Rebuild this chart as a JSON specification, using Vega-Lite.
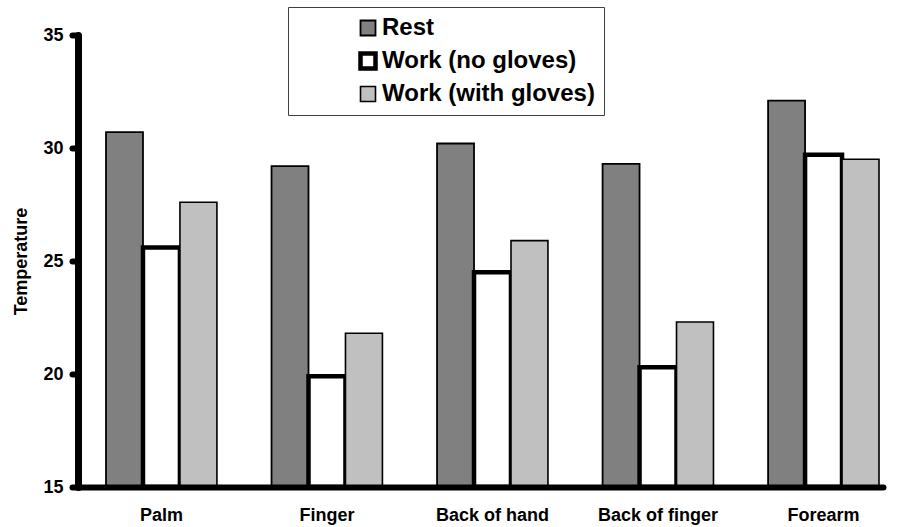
{
  "$schema": "https://vega.github.io/schema/vega-lite/v6.json",
  "width": 805,
  "height": 452,
  "autosize": "none",
  "padding": {"left": 78, "top": 35, "right": 16, "bottom": 40},
  "background": "white",
  "data": {
    "values": [
      {"site": "Palm", "series": "Rest", "temp": 30.7},
      {"site": "Palm", "series": "Work (no gloves)", "temp": 25.6},
      {"site": "Palm", "series": "Work (with gloves)", "temp": 27.6},
      {"site": "Finger", "series": "Rest", "temp": 29.2},
      {"site": "Finger", "series": "Work (no gloves)", "temp": 19.9},
      {"site": "Finger", "series": "Work (with gloves)", "temp": 21.8},
      {"site": "Back of hand", "series": "Rest", "temp": 30.2},
      {"site": "Back of hand", "series": "Work (no gloves)", "temp": 24.5},
      {"site": "Back of hand", "series": "Work (with gloves)", "temp": 25.9},
      {"site": "Back of finger", "series": "Rest", "temp": 29.3},
      {"site": "Back of finger", "series": "Work (no gloves)", "temp": 20.3},
      {"site": "Back of finger", "series": "Work (with gloves)", "temp": 22.3},
      {"site": "Forearm", "series": "Rest", "temp": 32.1},
      {"site": "Forearm", "series": "Work (no gloves)", "temp": 29.7},
      {"site": "Forearm", "series": "Work (with gloves)", "temp": 29.5}
    ]
  },
  "mark": {"type": "bar", "stroke": "black"},
  "encoding": {
    "x": {
      "field": "site",
      "type": "nominal",
      "sort": ["Palm", "Finger", "Back of hand", "Back of finger", "Forearm"],
      "scale": {"paddingInner": 0.33, "paddingOuter": 0.0967, "align": 0.875},
      "axis": {
        "title": null,
        "labelAngle": 0,
        "ticks": false,
        "domainWidth": 6,
        "domainColor": "black",
        "domainCap": "round",
        "labelFont": "Liberation Sans",
        "labelFontWeight": "bold",
        "labelFontSize": 18,
        "labelColor": "black",
        "labelPadding": 19,
        "zindex": 1
      }
    },
    "xOffset": {
      "field": "series",
      "type": "nominal",
      "sort": ["Rest", "Work (no gloves)", "Work (with gloves)"],
      "scale": {"paddingInner": 0, "paddingOuter": 0}
    },
    "y": {
      "field": "temp",
      "type": "quantitative",
      "scale": {"domain": [15, 35], "zero": false, "nice": false},
      "axis": {
        "title": "Temperature",
        "values": [15, 20, 25, 30, 35],
        "grid": false,
        "domainWidth": 7,
        "domainColor": "black",
        "domainCap": "round",
        "tickSize": 6,
        "tickWidth": 6,
        "tickCap": "round",
        "tickColor": "black",
        "labelFont": "Liberation Sans",
        "labelFontWeight": "bold",
        "labelFontSize": 18,
        "labelColor": "black",
        "labelPadding": 9,
        "titleFont": "Liberation Sans",
        "titleFontWeight": "bold",
        "titleFontSize": 18,
        "titleColor": "black",
        "titlePadding": 12,
        "zindex": 1
      }
    },
    "y2": {"datum": 15},
    "fill": {
      "field": "series",
      "type": "nominal",
      "sort": ["Rest", "Work (no gloves)", "Work (with gloves)"],
      "scale": {"domain": ["Rest", "Work (no gloves)", "Work (with gloves)"], "range": ["#808080", "#ffffff", "#c0c0c0"]},
      "legend": {
        "title": null,
        "orient": "none",
        "legendX": 210,
        "legendY": -28,
        "padding": 9,
        "strokeColor": "#404040",
        "fillColor": "white",
        "symbolType": "square",
        "symbolSize": 225,
        "symbolStrokeColor": "black",
        "symbolOffset": 59,
        "labelOffset": 2,
        "labelFont": "Liberation Sans",
        "labelFontWeight": "bold",
        "labelFontSize": 24,
        "labelColor": "black",
        "labelLimit": 400,
        "rowPadding": 4
      }
    },
    "strokeWidth": {
      "field": "series",
      "type": "nominal",
      "scale": {"type": "ordinal", "domain": ["Rest", "Work (no gloves)", "Work (with gloves)"], "range": [1.8, 4.5, 1.6]},
      "legend": {
        "title": null,
        "orient": "none",
        "legendX": 210,
        "legendY": -28
      }
    }
  },
  "config": {"view": {"stroke": null}}
}
